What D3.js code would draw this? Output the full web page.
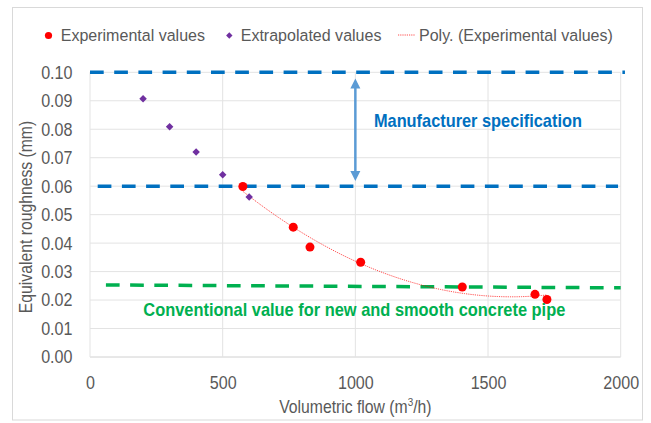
<!DOCTYPE html>
<html>
<head>
<meta charset="utf-8">
<script src="https://cdn.jsdelivr.net/npm/d3@7"></script>
<style>
  body { margin: 0; background: #fff; }
  text { font-family: 'Liberation Sans', Arial, sans-serif; fill: #595959; }
  .note { font-family: 'Liberation Sans Narrow', 'Arial Narrow', 'Liberation Sans', sans-serif; font-weight: bold; }
</style>
</head>
<body>
<div id="chart"></div>
<script>
const WIDTH = 651
const HEIGHT = 423
const MARGINS = { top: 72.3, right: 30.3, bottom: 66, left: 90 }

// data

const expFlow = [576, 766, 829, 1020, 1403, 1677, 1722]
const expRough = [0.0599, 0.0456, 0.0386, 0.0333, 0.0246, 0.0220, 0.0202]

const extFlow = [200, 300, 400, 500, 600]
const extRough = [0.0907, 0.0809, 0.0720, 0.0640, 0.0562]

const xTicks = [0, 500, 1000, 1500, 2000]
const yTicks = [0, 0.01, 0.02, 0.03, 0.04, 0.05, 0.06, 0.07, 0.08, 0.09, 0.10]

// reference lines in data units: [x0, y0, x1, y1]
const specLines = [[0, 0.10, 2016, 0.10], [29, 0.06, 1990, 0.06]]
const conventionalLine = [60, 0.0253, 2000, 0.0243]
const specArrow = [1000, 0.0978, 1000, 0.0618]

const legendLabels = ['Experimental values', 'Extrapolated values', 'Poly. (Experimental values)']

const svg = d3.select('#chart')
  .append('svg')
    .attr('width', WIDTH)
    .attr('height', HEIGHT)

// the source text is a bit condensed horizontally
function squeeze(sel, k) {
  sel.each(function() {
    let len = this.getComputedTextLength()
    d3.select(this)
      .attr('textLength', len * k)
      .attr('lengthAdjust', 'spacingAndGlyphs')
  })
}

svg.append('rect')
  .attr('x', 12.5).attr('y', 7.5)
  .attr('width', 630).attr('height', 412.5)
  .attr('fill', '#fff')
  .attr('stroke', '#d9d9d9')

let x = d3.scaleLinear()
  .domain([0, 2000])
  .range([MARGINS.left, WIDTH - MARGINS.right])

let y = d3.scaleLinear()
  .domain([0, 0.10])
  .range([HEIGHT - MARGINS.bottom, MARGINS.top])

// grid

let grid = svg.append('g').attr('class', 'grid')

grid.selectAll('.hgrid')
  .data(yTicks)
  .enter().append('line')
    .attr('x1', x(0)).attr('x2', x(2000))
    .attr('y1', (d) => y(d)).attr('y2', (d) => y(d))
    .attr('stroke', (d) => d === 0 ? '#d0d0d0' : '#e3e3e3')
    .attr('stroke-width', 1)

grid.selectAll('.vgrid')
  .data(xTicks)
  .enter().append('line')
    .attr('y1', y(0)).attr('y2', y(0.10))
    .attr('x1', (d) => x(d)).attr('x2', (d) => x(d))
    .attr('stroke', '#e3e3e3')

// axes (labels only)

let fmtY = d3.format('.2f')

svg.append('g')
  .attr('transform', 'translate(' + (MARGINS.left - 17.5) + ',0)')
  .call(d3.axisLeft(y).tickValues(yTicks).tickFormat(fmtY).tickSize(0).tickPadding(0))
  .call((g) => g.select('.domain').remove())
  .selectAll('text')
    .attr('font-family', 'Liberation Sans, Arial, sans-serif')
    .attr('font-size', 18.5)
    .attr('fill', '#595959')
    .call(squeeze, 0.87)

svg.append('g')
  .attr('transform', 'translate(0,' + (y(0) + 18.5) + ')')
  .call(d3.axisBottom(x).tickValues(xTicks).tickFormat(d3.format('d')).tickSize(0).tickPadding(0))
  .call((g) => g.select('.domain').remove())
  .selectAll('text')
    .attr('font-family', 'Liberation Sans, Arial, sans-serif')
    .attr('font-size', 18.5)
    .attr('fill', '#595959')
    .call(squeeze, 0.87)

let xTitle = svg.append('text')
  .attr('transform', 'translate(' + ((x(0) + x(2000)) / 2) + ',413) scale(0.9,1)')
  .attr('text-anchor', 'middle')
  .attr('font-size', 17.5)
xTitle.append('tspan').text('Volumetric flow (m')
xTitle.append('tspan').attr('font-size', 11).attr('dy', -7).text('3')
xTitle.append('tspan').attr('dy', 7).text('/h)')

svg.append('text')
  .attr('transform', 'translate(32,217) rotate(-90) scale(0.9,1)')
  .attr('text-anchor', 'middle')
  .attr('font-size', 17.5)
  .text('Equivalent roughness (mm)')

// reference lines

svg.selectAll('.spec')
  .data(specLines)
  .enter().append('line')
    .attr('x1', (d) => x(d[0])).attr('y1', (d) => y(d[1]))
    .attr('x2', (d) => x(d[2])).attr('y2', (d) => y(d[3]))
    .attr('stroke', '#0070c0')
    .attr('stroke-width', 3.5)
    .attr('stroke-dasharray', '13.7,10.5')

svg.append('line')
  .attr('x1', x(conventionalLine[0])).attr('y1', y(conventionalLine[1]))
  .attr('x2', x(conventionalLine[2])).attr('y2', y(conventionalLine[3]))
  .attr('stroke', '#00b050')
  .attr('stroke-width', 3.5)
  .attr('stroke-dasharray', '13.7,10.5')

// double arrow

let ax = x(specArrow[0])
let ay0 = y(specArrow[1])
let ay1 = y(specArrow[3])
let head = 10
svg.append('line')
  .attr('x1', ax).attr('x2', ax)
  .attr('y1', ay0 + head - 1).attr('y2', ay1 - head + 1)
  .attr('stroke', '#5b9bd5')
  .attr('stroke-width', 2.5)
svg.append('path')
  .attr('d', 'M' + ax + ',' + ay0 + 'L' + (ax - 5) + ',' + (ay0 + head) + 'L' + (ax + 5) + ',' + (ay0 + head) + 'Z' +
             'M' + ax + ',' + ay1 + 'L' + (ax - 5) + ',' + (ay1 - head) + 'L' + (ax + 5) + ',' + (ay1 - head) + 'Z')
  .attr('fill', '#5b9bd5')

// narrow bold notes (no condensed font installed, so compress to the measured width)

svg.append('text')
  .attr('class', 'note')
  .attr('x', x(1070)).attr('y', y(0.0808))
  .attr('font-size', 18.5)
  .attr('textLength', 208)
  .attr('lengthAdjust', 'spacingAndGlyphs')
  .style('fill', '#0070c0')
  .text('Manufacturer specification')

svg.append('text')
  .attr('class', 'note')
  .attr('x', x(201)).attr('y', y(0.0144))
  .attr('font-size', 18.5)
  .attr('textLength', 422)
  .attr('lengthAdjust', 'spacingAndGlyphs')
  .style('fill', '#00b050')
  .text('Conventional value for new and smooth concrete pipe')

// polynomial trendline (order 2, least squares on experimental values)

function polyFit(xs, ys) {
  let s = [0, 0, 0, 0, 0], t = [0, 0, 0]
  xs.forEach((xi, i) => {
    for (let k = 0; k < 5; k++) s[k] += Math.pow(xi, k)
    for (let k = 0; k < 3; k++) t[k] += Math.pow(xi, k) * ys[i]
  })
  let m = [[s[0], s[1], s[2], t[0]], [s[1], s[2], s[3], t[1]], [s[2], s[3], s[4], t[2]]]
  for (let c = 0; c < 3; c++) {
    for (let r = c + 1; r < 3; r++) {
      let f = m[r][c] / m[c][c]
      for (let k = c; k < 4; k++) m[r][k] -= f * m[c][k]
    }
  }
  let b = [0, 0, 0]
  for (let r = 2; r >= 0; r--) {
    let v = m[r][3]
    for (let k = r + 1; k < 3; k++) v -= m[r][k] * b[k]
    b[r] = v / m[r][r]
  }
  return (v) => b[0] + b[1] * v + b[2] * v * v
}

let fit = polyFit(expFlow, expRough)
let trendX = d3.range(d3.min(expFlow), d3.max(expFlow) + 1, 5)

svg.append('path')
  .datum(trendX)
  .attr('d', d3.line().x((d) => x(d)).y((d) => y(fit(d))))
  .attr('fill', 'none')
  .attr('stroke', '#ff0000')
  .attr('stroke-width', 1)
  .attr('stroke-opacity', 0.7)
  .attr('stroke-dasharray', '1.2,1')

// points

let diamond = d3.symbol().type(d3.symbolDiamond2).size(36)

svg.selectAll('.ext')
  .data(extFlow)
  .enter().append('path')
    .attr('d', diamond)
    .attr('transform', (d, i) => 'translate(' + x(d) + ',' + y(extRough[i]) + ')')
    .attr('fill', '#7030a0')

svg.selectAll('.exp')
  .data(expFlow)
  .enter().append('circle')
    .attr('cx', (d) => x(d))
    .attr('cy', (d, i) => y(expRough[i]))
    .attr('r', 4.5)
    .attr('fill', '#ff0000')

// legend

let legend = svg.append('g').attr('class', 'legend')

legend.append('circle').attr('cx', 48.5).attr('cy', 35.5).attr('r', 3.6).attr('fill', '#ff0000')
legend.append('path')
  .attr('d', d3.symbol().type(d3.symbolDiamond2).size(26))
  .attr('transform', 'translate(229.3,35.5)')
  .attr('fill', '#7030a0')
legend.append('line')
  .attr('x1', 398).attr('x2', 415).attr('y1', 35).attr('y2', 35)
  .attr('stroke', '#ff0000').attr('stroke-opacity', 0.7)
  .attr('stroke-dasharray', '1.2,1')

legend.selectAll('.lbl')
  .data(legendLabels)
  .enter().append('text')
    .attr('x', (d, i) => [60.7, 240.7, 419][i])
    .attr('y', 41.3)
    .attr('font-size', 16.8)
    .text((d) => d)
    .call(squeeze, 0.955)
</script>
</body>
</html>
